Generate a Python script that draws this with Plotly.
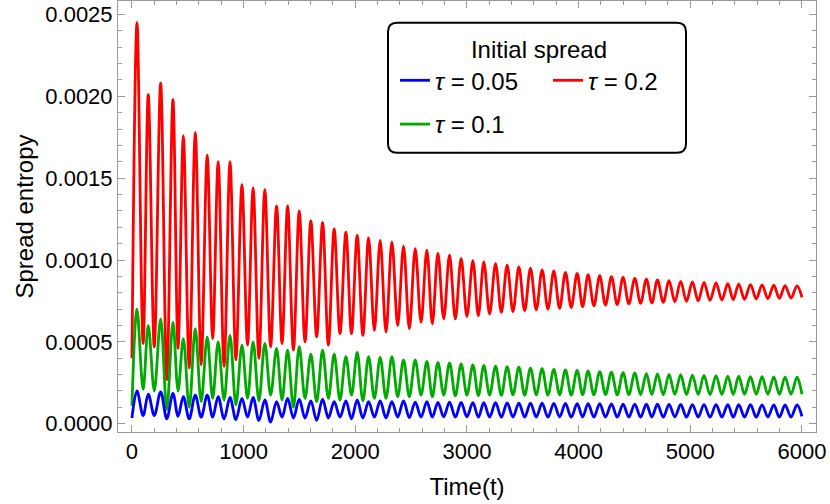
import plotly.graph_objects as go

# ---- data (values in units of 1e-4) ----
UNIT = 1e-4
t_start, t_end = 0, 6000
t_peaks = [45, 146, 257, 367, 460, 567, 674, 772, 878, 985,
           1085, 1190, 1295, 1394, 1498, 1602, 1707, 1811, 1916, 2017,
           2119, 2223, 2328, 2432, 2537, 2641, 2740, 2844, 2948, 3053,
           3151, 3256, 3360, 3465, 3569, 3673, 3778, 3882, 3987, 4085,
           4189, 4294, 4398, 4503, 4607, 4706, 4810, 4914, 5019, 5123,
           5231, 5336, 5434, 5539, 5643, 5748, 5849, 5956]
t_troughs = [100, 200, 312, 413, 513, 620, 723, 825, 931, 1035,
             1137, 1242, 1344, 1446, 1550, 1654, 1759, 1863, 1966, 2068,
             2171, 2275, 2380, 2484, 2589, 2690, 2792, 2896, 3000, 3102,
             3203, 3308, 3412, 3517, 3621, 3725, 3830, 3934, 4036, 4137,
             4241, 4346, 4450, 4555, 4656, 4758, 4862, 4966, 5071, 5177,
             5283, 5385, 5486, 5591, 5695, 5798, 5902]

red_start, red_end = 4.0, 7.72
red_peaks = [24.5, 20.1, 20.8, 19.8, 17.6, 17.8, 16.4, 16.0, 16.0, 14.6,
             14.4, 14.3, 13.3, 13.3, 13.0, 12.4, 12.3, 11.9, 11.7, 11.5,
             11.35, 11.2, 11.1, 10.85, 10.7, 10.6, 10.4, 10.3, 10.1, 9.96,
             9.88, 9.78, 9.68, 9.58, 9.5, 9.4, 9.33, 9.25, 9.18, 9.1,
             9.04, 8.98, 8.93, 8.88, 8.83, 8.78, 8.74, 8.7, 8.66, 8.63,
             8.6, 8.56, 8.53, 8.5, 8.48, 8.46, 8.44, 8.42]
red_troughs = [4.9, 4.7, 2.7, 4.6, 3.4, 3.6, 5.2, 3.5, 3.9, 4.8,
               4.0, 4.7, 4.9, 4.5, 5.0, 5.3, 4.8, 5.5, 5.5, 5.4,
               5.7, 5.6, 6.0, 5.8, 6.2, 6.1, 6.4, 6.4, 6.55, 6.6,
               6.7, 6.8, 6.85, 6.9, 6.95, 7.0, 7.05, 7.1, 7.15, 7.2,
               7.25, 7.28, 7.32, 7.35, 7.38, 7.42, 7.45, 7.48, 7.5, 7.53,
               7.55, 7.58, 7.6, 7.62, 7.64, 7.66, 7.68]

green_start, green_end = 1.1, 1.8
green_peaks = [7.0, 6.0, 6.4, 6.2, 5.2, 5.8, 5.3, 5.0, 5.4, 4.8,
               5.0, 4.9, 4.6, 4.5, 4.7, 4.25, 4.5, 4.25, 4.1, 4.35,
               4.1, 4.05, 4.1, 3.9, 3.9, 3.8, 3.75, 3.72, 3.65, 3.6,
               3.56, 3.52, 3.48, 3.45, 3.4, 3.36, 3.32, 3.28, 3.25, 3.22,
               3.18, 3.15, 3.12, 3.09, 3.06, 3.04, 3.01, 2.99, 2.97, 2.95,
               2.93, 2.91, 2.9, 2.88, 2.87, 2.86, 2.85, 2.84]
green_troughs = [2.1, 2.0, 0.85, 2.0, 1.0, 1.35, 1.55, 1.45, 1.15, 1.55,
                 1.4, 1.75, 1.45, 1.0, 1.55, 1.35, 1.55, 1.45, 1.75, 1.4,
                 1.55, 1.55, 1.65, 1.65, 1.75, 1.65, 1.75, 1.7, 1.75, 1.72,
                 1.75, 1.73, 1.76, 1.74, 1.76, 1.75, 1.77, 1.75, 1.77, 1.76,
                 1.78, 1.76, 1.78, 1.77, 1.78, 1.77, 1.79, 1.78, 1.79, 1.78,
                 1.79, 1.78, 1.8, 1.79, 1.8, 1.79, 1.8]

blue_start, blue_end = 0.35, 0.45
blue_peaks = [2.0, 1.8, 1.95, 1.85, 1.65, 1.75, 1.75, 1.65, 1.6, 1.55,
              1.6, 1.45, 1.35, 1.55, 1.5, 1.4, 1.5, 1.35, 1.4, 1.45,
              1.35, 1.4, 1.35, 1.4, 1.32, 1.35, 1.3, 1.32, 1.3, 1.29,
              1.28, 1.28, 1.27, 1.26, 1.26, 1.25, 1.24, 1.24, 1.23, 1.22,
              1.22, 1.21, 1.2, 1.2, 1.19, 1.19, 1.18, 1.18, 1.17, 1.17,
              1.17, 1.16, 1.16, 1.16, 1.15, 1.15, 1.15, 1.15]
blue_troughs = [0.5, 0.5, 0.3, 0.45, 0.3, 0.4, 0.4, 0.3, 0.25, 0.4,
                0.2, 0.1, 0.4, 0.35, 0.35, 0.2, 0.35, 0.4, 0.3, 0.35,
                0.4, 0.35, 0.4, 0.38, 0.4, 0.4, 0.42, 0.4, 0.42, 0.4,
                0.41, 0.4, 0.41, 0.4, 0.41, 0.4, 0.41, 0.4, 0.41, 0.4,
                0.41, 0.4, 0.41, 0.4, 0.41, 0.4, 0.41, 0.4, 0.41, 0.4,
                0.41, 0.4, 0.41, 0.4, 0.41, 0.4, 0.41]

legend_title = "Initial spread"
x_title = "Time(t)"
y_title = "Spread entropy"


def interleave(start, peaks, troughs, end):
    out = [start]
    for p, q in zip(peaks, troughs):
        out += [p, q]
    out += [peaks[len(troughs)], end]
    return out


T = interleave(t_start, t_peaks, t_troughs, t_end)
red = [v * UNIT for v in interleave(red_start, red_peaks, red_troughs, red_end)]
green = [v * UNIT for v in interleave(green_start, green_peaks, green_troughs, green_end)]
blue = [v * UNIT for v in interleave(blue_start, blue_peaks, blue_troughs, blue_end)]

FONT = "Liberation Sans, Arial, sans-serif"
W, H = 830, 504
ML, MR, MT, MB = 118, 14, 1, 72
PW, PH = W - ML - MR, H - MT - MB


def px_x(p):
    return (p - ML) / PW


def px_y(p):
    return 1 - (p - MT) / PH


fig = go.Figure()
fig.add_trace(go.Scatter(x=T, y=red, mode="lines", name="<i>\u03c4</i> = 0.2",
                         line=dict(color="#FF0000", width=2.8, shape="spline", smoothing=1.0),
                         legend="legend", legendrank=2, legendwidth=90))
fig.add_trace(go.Scatter(x=T, y=green, mode="lines", name="<i>\u03c4</i> = 0.1",
                         line=dict(color="#00AA00", width=2.8, shape="spline", smoothing=1.0),
                         legend="legend2", legendrank=3))
fig.add_trace(go.Scatter(x=T, y=blue, mode="lines", name="<i>\u03c4</i> = 0.05",
                         line=dict(color="#0000FF", width=2.8, shape="spline", smoothing=1.0),
                         legend="legend", legendrank=1, legendwidth=108))

# rounded legend frame
x0, x1 = px_x(388), px_x(686)
yt, yb = px_y(22.7), px_y(152.7)
rx, ry = 9 / PW, 9 / PH
path = (f"M {x0+rx},{yt} L {x1-rx},{yt} Q {x1},{yt} {x1},{yt-ry} "
        f"L {x1},{yb+ry} Q {x1},{yb} {x1-rx},{yb} L {x0+rx},{yb} "
        f"Q {x0},{yb} {x0},{yb+ry} L {x0},{yt-ry} Q {x0},{yt} {x0+rx},{yt} Z")
fig.add_shape(type="path", path=path, xref="paper", yref="paper",
              line=dict(color="black", width=2), fillcolor="white", layer="above")

axis_common = dict(
    showline=True, linecolor="#9a9a9a", linewidth=1, mirror="ticks",
    ticks="inside", ticklen=7, tickwidth=1, tickcolor="#9a9a9a",
    showgrid=False, zeroline=False,
    tickfont=dict(family=FONT, size=22, color="black"),
)

fig.update_xaxes(range=[-125, 6126], tick0=0, dtick=1000, tickformat="d",
                 minor=dict(ticks="inside", ticklen=4, dtick=200, tick0=0, tickcolor="#9a9a9a", showgrid=False),
                 title=dict(text=x_title, font=dict(family=FONT, size=24, color="black"), standoff=14),
                 **axis_common)
fig.update_yaxes(range=[-0.0000506, 0.002582], tick0=0, dtick=0.0005, tickformat=".4f",
                 minor=dict(ticks="inside", ticklen=4, dtick=0.0001, tick0=0, tickcolor="#9a9a9a", showgrid=False),
                 title=dict(text=y_title, font=dict(family=FONT, size=24, color="black"), standoff=4),
                 **axis_common)

fig.update_layout(
    width=W, height=H,
    margin=dict(l=ML, r=MR, t=MT, b=MB),
    paper_bgcolor="white", plot_bgcolor="white",
    font=dict(family=FONT, color="black"),
    legend=dict(title=dict(text=legend_title, side="top center", font=dict(family=FONT, size=24)),
                orientation="h", x=px_x(395), y=px_y(27), xanchor="left", yanchor="top",
                bgcolor="rgba(0,0,0,0)", borderwidth=0, font=dict(family=FONT, size=24)),
    legend2=dict(orientation="h", x=px_x(395), y=px_y(102), xanchor="left", yanchor="top",
                 bgcolor="rgba(0,0,0,0)", borderwidth=0, font=dict(family=FONT, size=24)),
    showlegend=True,
)

fig.write_html("out.html", config={"displayModeBar": False},
               post_script="document.body.style.margin='0px';document.body.style.overflow='hidden';")
